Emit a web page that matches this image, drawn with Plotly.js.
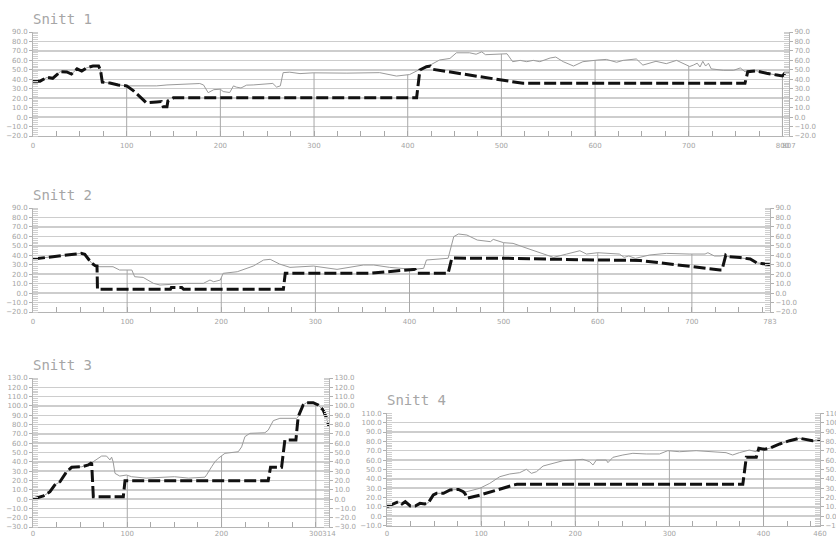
<!DOCTYPE html>
<html><head><meta charset="utf-8">
<script src="https://cdn.plot.ly/plotly-3.0.1.min.js"></script>
<style>html,body{margin:0;padding:0;background:#fff}#chart{width:836px;height:540px}</style>
</head><body><div id="chart"></div>
<script>
// ---------- DATA ----------
const panelNames = ['Snitt 1', 'Snitt 2', 'Snitt 3', 'Snitt 4'];
const panelLengths = [807, 783, 314, 460];
const s1YRange = [-20, 90];
const s2YRange = [-20, 90];
const s3YRange = [-30, 130];
const s4YRange = [-10, 110];

// Snitt 1
const s1TerrainX = [0,7.5,15,21,29,36,41,47,52,57,64,70,72,74,82,91,100,115,132,143,164,178,182,187,193,200,203,210,214,217,222,228,235,249,256,260,264,267,274,285,299,335,370,388,402,413,424,434,445,452,466,473,479,483,495,506,512,520,527,534,541,552,558,566,577,587,603,612,623,630,644,651,665,676,687,701,705,709,712,715,718,721,724,737,748,755,760,763,772,783,794,800,803,807];
const s1TerrainY = [38,38,42,41,48,47.7,45.5,51,48.7,52,54,54,50,37,36,34,33,33,33,34,35,35.5,34,25.8,29,29.5,27,26,33,31.7,30.8,33.8,34,35,35.6,31.7,33,47,47.5,46,46.8,46.5,47,43.4,45,50.5,55,60.4,62,68,68,66.5,69,66,66.7,67,58.6,60,58.6,60,58.6,62.5,63.5,58.6,54,58.6,60.4,61,58,60,61.5,55,59,56.5,60,53.5,55,57,53,59,54,57,51,49.5,49.5,52,48,48,49,46.3,44.5,43.5,47,47];
const s1DesignX = [0,7.5,15,21,29,36,41,47,52,57,64,70,72,74,82,91,100,107,118,121,132,137,139,143,144,150,409.5,413,420,424,427,523,760,763,772,783,794,800,803,807];
const s1DesignY = [38,38,42,41,48,47.7,45.5,51,48.7,52,54,54,50,37,36,34,33,28,18,15,16,16.5,11,11,17,20.5,20.5,49.8,53.3,54,50.5,35.7,35.7,48,49,46.3,44.5,43.5,47,47];

// Snitt 2
const s2TerrainX = [0,18,36,46,51,55,58,62,66,71,85,92,105,108,117,128,135,153,163,181,188,192,199,202,217,234,245,252,262,273,298,323,351,362,379,404,415,418,426,441,447,452,461,472,486,489,500,510,528,553,567,581,588,600,623,628,633,640,655,673,697,714,717,724,730,736,738,751,762,769,780,783];
const s2TerrainY = [36,37.8,40.3,41.4,42,41,37.5,32,29,27.9,27.9,24.4,24.4,17.3,16.6,10.3,8.5,9.6,10.3,10.3,13.8,12,13.8,20.9,22.6,28.6,35,35.7,30.7,27.2,28.6,25.1,29.7,29.7,27.2,25.1,26.2,35,35.7,36.8,59.7,62.5,61.4,56.1,54.4,56.8,53.3,52.6,46.3,37.8,41.3,44.8,41.3,42.7,41.3,37.8,39.2,36.7,40.3,42,41.3,41.3,42.7,39.2,39.2,40,38.7,37.6,36,32,31,30];
const s2DesignX = [0,18,36,46,51,55,58,62,66,68,68.5,146,147,158,160,266,268,358,404,406,408,441,445,505,581,645,730,732,736,738,751,762,769,780,783];
const s2DesignY = [36,37.8,40.3,41.4,42,41,37.5,32,29,28.6,4,4,6,6,4,4,21,21,25,25,21,21,37,36.8,35.3,34.5,24.5,24.5,40,38.7,37.6,36,32,31,30];

// Snitt 3
const s3TerrainX = [0,11,18,23,28.6,35.7,41,51.6,58.7,62.2,67.5,72.8,78,81.6,83.4,85,87,92,99.2,104.6,120,140,150,165,182.4,184.2,187.7,189.5,193,196.5,203.6,217.7,221.3,224.8,230.1,246,249.5,253.1,254.9,261.9,279.6,281.3,284,286.6,290.2,297.2,302.5,307.8,311.5,314];
const s3TerrainY = [0,3.3,7.9,15,18.6,29.4,34.1,34.7,36.6,39,42,46.2,46.2,42,45,40,27.6,24.7,25.8,24,22.5,23,24,22.5,23.5,26,31,34.7,40,43.7,49.1,50.8,56,67,70.6,71.2,74,82,84.2,86.7,86.7,88.4,96,101,103.5,103.5,101,95.6,86.7,77.7];
const s3DesignX = [0,11,18,23,28.6,35.7,41,51.6,58.7,62.2,64,95.8,97.6,249.5,252,263.7,267.2,278.9,281.3,284,286.6,290.2,297.2,302.5,307.8,311.5,314];
const s3DesignY = [0,3.3,7.9,15,18.6,29.4,34.1,34.7,36.6,39,2.5,2.5,19.7,19.7,34.1,34.1,63.4,63.4,88.4,96,101,103.5,103.5,101,95.6,86.7,77.7];

// Snitt 4
const s4TerrainX = [0,7,12.4,15.9,19.4,24.7,30,35,40,44,49.2,52.8,60,67,76,81,84.9,98.6,109.2,119.8,130.4,141,148.1,153.4,158.7,165.8,176.4,187,197.6,208.2,215.3,218.8,222.4,233,234.7,240,250.6,261.2,275.4,289.5,298.3,310.7,328.4,345.7,360.2,367.2,374.3,384.9,392,395,401,406.6,417.2,427.7,438.3,445.4,452,460];
const s4TerrainY = [10.1,13,15.5,13,15.5,10.9,10.9,13.7,13,14.4,22.6,24.4,24.4,28,28.6,26.2,26.2,29.8,35.1,42.2,45.1,46.5,50.1,45.8,47.5,53.6,56.5,59.3,60,60.8,58.2,54.7,60,60,57.2,62.9,65.4,67.2,66.5,66.5,70,68.9,70,68.9,67.9,65.4,67.9,70.7,68.9,72.6,71.5,72.6,77.2,80.7,83.3,82.2,80.7,81.5];
const s4DesignX = [0,7,12.4,15.9,19.4,24.7,30,35,40,44,49.2,52.8,60,67,76,81,83,84.9,99,134.4,138,378,381.7,392.3,395,401,406.6,417.2,427.7,438.3,445.4,452,460];
const s4DesignY = [10.1,13,15.5,13,15.5,10.9,10.9,13.7,13,14.4,22.6,24.4,24.4,28,28.6,26.2,24,19.1,22.6,33.3,34,34,63,63,72.6,71.5,72.6,77.2,80.7,83.3,82.2,80.7,81.5];

// ---------- LAYOUT (pixel boxes) ----------
const W = 836, H = 540;
const panels = [
  {tx:s1TerrainX, ty:s1TerrainY, dx:s1DesignX, dy:s1DesignY, yr:s1YRange, px:[33,789], py:[32,136], title:[31,19], standoff:3},
  {tx:s2TerrainX, ty:s2TerrainY, dx:s2DesignX, dy:s2DesignY, yr:s2YRange, px:[33,770], py:[208,312], title:[31,195], standoff:3},
  {tx:s3TerrainX, ty:s3TerrainY, dx:s3DesignX, dy:s3DesignY, yr:s3YRange, px:[33,329], py:[378,527], title:[31,365], standoff:0},
  {tx:s4TerrainX, ty:s4TerrainY, dx:s4DesignX, dy:s4DesignY, yr:s4YRange, px:[387,820], py:[413.3,525.5], title:[385,400], standoff:1}
];

function interp(xs, ys, x) {
  for (let i = 1; i < xs.length; i++) {
    if (x <= xs[i]) {
      const t = (x - xs[i-1]) / (xs[i] - xs[i-1]);
      return ys[i-1] + t * (ys[i] - ys[i-1]);
    }
  }
  return ys[ys.length - 1];
}

const TICKFONT = {family: 'DejaVu Sans', size: 7, color: '#a4a4a4'};
const traces = [];
const layout = {
  width: W, height: H,
  margin: {l:0, r:0, t:0, b:0},
  paper_bgcolor: '#ffffff', plot_bgcolor: '#ffffff',
  showlegend: false, hovermode: false,
  annotations: []
};

panels.forEach((p, i) => {
  const s = i === 0 ? '' : String(i + 1);
  const xa = 'x' + s, ya = 'y' + s, yr = 'y' + (i + 5);
  const len = panelLengths[i];

  // vertical station lines at each 100, from the base up to the terrain
  const vx = [], vy = [];
  for (let v = 100; v < len; v += 100) {
    vx.push(v, v, null);
    vy.push(p.yr[0], interp(p.tx, p.ty, v), null);
  }
  traces.push({x: vx, y: vy, xaxis: xa, yaxis: ya, mode: 'lines',
    line: {color: '#a8a8a8', width: 1}, hoverinfo: 'skip'});
  // terrain
  traces.push({x: p.tx, y: p.ty, xaxis: xa, yaxis: ya, mode: 'lines',
    line: {color: '#9a9a9a', width: 1}, hoverinfo: 'skip'});
  // design line
  traces.push({x: p.dx, y: p.dy, xaxis: xa, yaxis: ya, mode: 'lines',
    line: {color: '#111111', width: 3, dash: '12px,4px'}, hoverinfo: 'skip'});
  // anchor trace for right axis
  traces.push({x: [null], y: [null], xaxis: xa, yaxis: yr, mode: 'lines', hoverinfo: 'skip'});

  const tickvals = [], ticktext = [];
  for (let v = 0; v <= len; v += 25) { tickvals.push(v); ticktext.push(v % 100 === 0 ? String(v) : ''); }
  if (len % 25 !== 0) { tickvals.push(len); ticktext.push(String(len)); }
  else ticktext[ticktext.length - 1] = String(len);

  layout['xaxis' + s] = {
    domain: [p.px[0] / W, p.px[1] / W], range: [0, len], anchor: ya,
    showgrid: false, zeroline: false, showline: true, linecolor: '#b4b4b4', linewidth: 1,
    tickmode: 'array', tickvals: tickvals, ticktext: ticktext, tickangle: 0,
    ticks: 'inside', ticklen: 5, tickcolor: '#a8a8a8', tickwidth: 1,
    ticklabelstandoff: p.standoff, tickfont: TICKFONT, fixedrange: true
  };
  const ydom = [1 - p.py[1] / H, 1 - p.py[0] / H];
  layout['yaxis' + s] = {
    domain: ydom, range: p.yr, anchor: xa,
    showgrid: true, gridcolor: '#cdcdcd', gridwidth: 1.5,
    tick0: 0, dtick: 10, tickformat: '.1f', zeroline: false,
    showline: true, linecolor: '#b4b4b4', linewidth: 1,
    ticks: 'outside', ticklen: 3, tickcolor: '#b0b0b0',
    minor: {dtick: 2, tick0: 0, ticks: 'inside', ticklen: 5, tickcolor: '#cfcfcf', showgrid: false},
    tickfont: TICKFONT, fixedrange: true
  };
  layout['yaxis' + (i + 5)] = {
    overlaying: ya, side: 'right', anchor: xa, range: p.yr,
    showgrid: false, zeroline: false, tick0: 0, dtick: 10, tickformat: '.1f',
    showline: true, linecolor: '#b4b4b4', linewidth: 1,
    ticks: 'outside', ticklen: 3, tickcolor: '#b0b0b0',
    minor: {dtick: 2, tick0: 0, ticks: 'inside', ticklen: 5, tickcolor: '#cfcfcf', showgrid: false},
    tickfont: TICKFONT, fixedrange: true
  };
  layout.annotations.push({
    text: panelNames[i], xref: 'paper', yref: 'paper',
    x: p.title[0] / W, y: 1 - p.title[1] / H, xanchor: 'left', yanchor: 'middle',
    showarrow: false, font: {family: 'DejaVu Sans Mono', size: 14, color: '#a6a6a6'}
  });
});

Plotly.newPlot('chart', traces, layout, {staticPlot: true, displayModeBar: false});
</script>
</body></html>
